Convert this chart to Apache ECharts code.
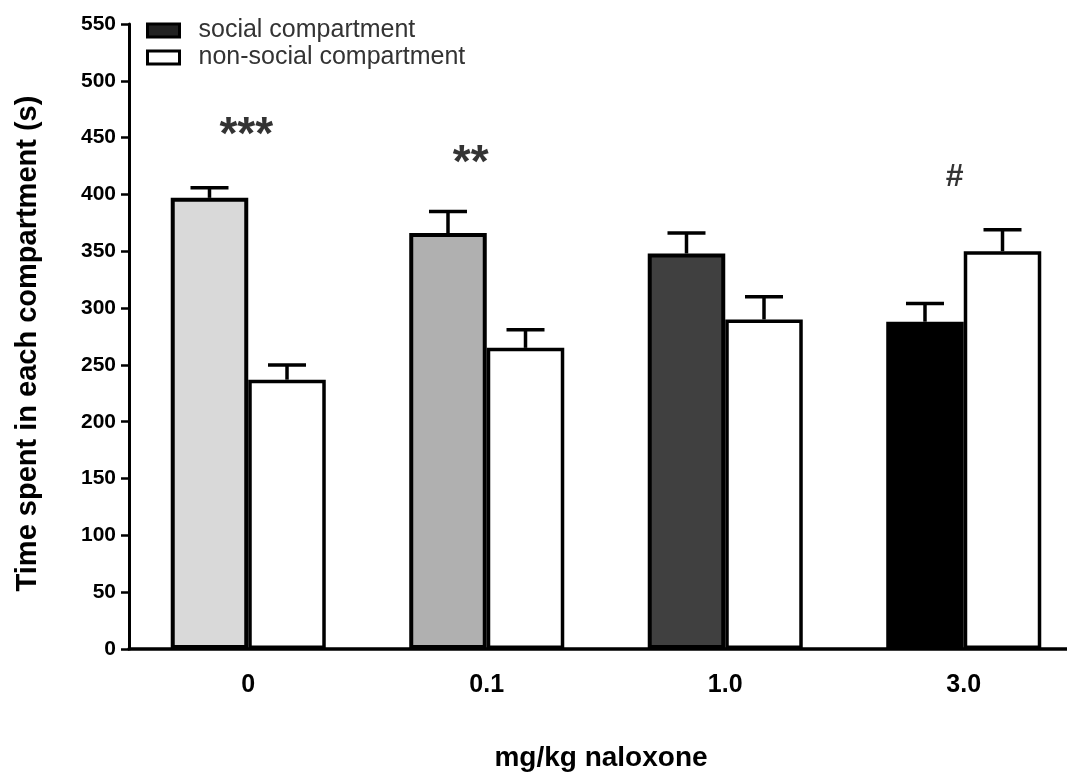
<!DOCTYPE html>
<html>
<head>
<meta charset="utf-8">
<script src="https://cdn.jsdelivr.net/npm/echarts@6/dist/echarts.min.js"></script>
<style>
  html, body { margin: 0; padding: 0; background: #fff; }
  #chart { width: 1067px; height: 772px; }
</style>
</head>
<body>
<div id="chart"></div>
<script>
// doses on the x axis
const categories = ['0', '0.1', '1.0', '3.0']
// mean time (s) and SEM
const socialValues = [397, 366, 348, 288]
const socialErrors = [9, 19, 18, 16]
const nonSocialValues = [237, 265, 290, 350]
const nonSocialErrors = [13, 16, 20, 19]
const socialFills = ['#d9d9d9', '#b0b0b0', '#404040', '#000000']
// significance marks and the height they sit at
const markTexts = ['***', '**', '#']
const markCats = ['0', '0.1', '3.0']
const markValues = [461, 436, 415]
const yTicks = [0, 550, 50] // min, max, step

const GAP = 0.35
const FONT = 'Arial, "Liberation Sans", sans-serif'

const chart = echarts.init(document.getElementById('chart'))

function errorBars(values, errors, side) {
  return values.map((v, i) => [i, v, errors[i], side])
}

function renderError(params, api) {
  const cat = api.value(0)
  const v = api.value(1)
  const e = api.value(2)
  const side = api.value(3)
  const band = api.size([1, 0])[0]
  const bw = band * (1 - GAP) / 2
  const base = api.coord([cat, v])
  const top = api.coord([cat, v + e])
  const x = base[0] + side * bw / 2
  const cap = 19
  const style = { stroke: '#000', lineWidth: 3.5 }
  return {
    type: 'group',
    children: [
      { type: 'line', shape: { x1: x, y1: base[1], x2: x, y2: top[1] }, style },
      { type: 'line', shape: { x1: x - cap, y1: top[1], x2: x + cap, y2: top[1] }, style },
    ],
  }
}

const option = {
  animation: false,
  backgroundColor: '#fff',
  grid: { left: 129, right: -16, top: 24, bottom: 123, outerBoundsMode: 'none', containLabel: false },
  legend: {
    orient: 'vertical',
    left: 141,
    top: 13,
    icon: 'rect',
    itemWidth: 32,
    itemHeight: 13,
    itemGap: 2,
    textStyle: { color: '#333', fontSize: 25, lineHeight: 24, fontFamily: FONT, padding: [0, 0, 0, 14] },
    data: [
      { name: 'social compartment', itemStyle: { color: '#222', borderColor: '#000', borderWidth: 3 } },
      { name: 'non-social compartment', itemStyle: { color: '#fff', borderColor: '#000', borderWidth: 3 } },
    ],
  },
  xAxis: {
    type: 'category',
    data: categories,
    name: 'mg/kg naloxone',
    nameLocation: 'middle',
    nameGap: 95,
    nameTextStyle: { color: '#000', fontSize: 28, fontWeight: 'bold', fontFamily: FONT, padding: [0, 10, 0, 0] },
    axisLine: { lineStyle: { color: '#000', width: 3.5 } },
    axisTick: { show: false },
    axisLabel: { color: '#000', fontSize: 25, fontWeight: 'bold', fontFamily: FONT, margin: 24 },
  },
  yAxis: {
    type: 'value',
    min: yTicks[0],
    max: yTicks[1],
    interval: yTicks[2],
    name: 'Time spent in each compartment (s)',
    nameLocation: 'middle',
    nameGap: 87,
    nameTextStyle: { color: '#000', fontSize: 29, fontWeight: 'bold', fontFamily: FONT, padding: [0, 14, 0, 0] },
    axisLine: { show: true, lineStyle: { color: '#000', width: 3 } },
    axisTick: { show: true, length: 8, lineStyle: { color: '#000', width: 2.5 } },
    axisLabel: { color: '#000', fontSize: 21, fontWeight: 'bold', fontFamily: FONT, margin: 13 },
    splitLine: { show: false },
  },
  series: [
    {
      name: 'social compartment',
      type: 'bar',
      barGap: '0%',
      barCategoryGap: (GAP * 100) + '%',
      itemStyle: { color: '#222', borderColor: '#000', borderWidth: 4 },
      data: socialValues.map((v, i) => ({ value: v, itemStyle: { color: socialFills[i] } })),
    },
    {
      name: 'non-social compartment',
      type: 'bar',
      itemStyle: { color: '#fff', borderColor: '#000', borderWidth: 3.5 },
      data: nonSocialValues,
    },
    {
      type: 'custom',
      renderItem: renderError,
      z: 5,
      data: errorBars(socialValues, socialErrors, -1).concat(errorBars(nonSocialValues, nonSocialErrors, 1)),
    },
    {
      type: 'scatter',
      symbolSize: 1,
      itemStyle: { color: 'transparent' },
      label: {
        show: true,
        position: 'inside',
        color: '#000',
        fontWeight: 'bold',
        fontFamily: FONT,
        formatter: p => markTexts[p.dataIndex],
      },
      data: [
        { value: [markCats[0], markValues[0]], label: { fontSize: 46, offset: [-2, 11] } },
        { value: [markCats[1], markValues[1]], label: { fontSize: 46, offset: [-16, 11] } },
        { value: [markCats[2], markValues[2]], label: { fontSize: 32, offset: [-9, 0] } },
      ],
    },
  ],
}

chart.setOption(option)
</script>
</body>
</html>
